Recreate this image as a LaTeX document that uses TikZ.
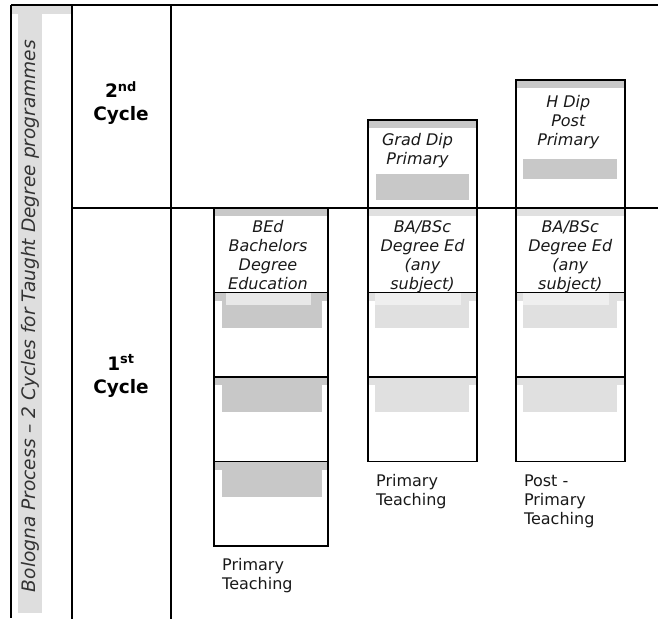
\documentclass[tikz,border=0pt]{standalone}
\usepackage{fontspec}
\setmainfont{DejaVu Sans}
\usetikzlibrary{positioning,backgrounds}
\definecolor{bandgray}{HTML}{C8C8C8}
\definecolor{palegray}{HTML}{E0E0E0}
\definecolor{fadegray}{HTML}{E8E8E8}
\definecolor{stripgray}{HTML}{DEDEDE}
\begin{document}
\begin{tikzpicture}[x=1pt, y=-1pt,
    gridline/.style={line width=1.8pt},
    cell/.style={draw, line width=1.8pt, minimum height=84.5pt, inner sep=0pt, outer sep=0pt},
    entry/.style={font=\fontsize{16}{19}\selectfont\itshape, align=center, inner sep=0pt, text=black!90},
    outcome/.style={font=\fontsize{16}{19}\selectfont, align=left, inner sep=0pt, anchor=north west, text=black!90},
    cyclelabel/.style={font=\fontsize{18.5}{23}\selectfont\bfseries, align=center}]

\useasboundingbox (0,0) rectangle (658,619);

% side strip
\fill[stripgray] (11,5) rectangle (71,14);
\fill[stripgray] (18,14) rectangle (42,613);
\node[rotate=90, font=\fontsize{18.6}{22}\selectfont\itshape, text=black!80] (title) at (30,316) {Bologna Process – 2 Cycles for Taught Degree programmes};

% table
\draw[gridline] (11,5) -- (658,5);
\draw[gridline] (72,208) -- (658,208);
\foreach \x/\ylen in {11/618, 72/619, 171/619}
{
    \draw[gridline] (\x,5) -- (\x,\ylen);
}

\node[cyclelabel] (second) at (121,103) {2\textsuperscript{nd}\\Cycle};
\node[cyclelabel] (first) at (121,376) {1\textsuperscript{st}\\Cycle};

% columns
\foreach \r in {1,2,3,4}
{
    \node[cell, minimum width=114pt] (bed\r) at (271,250.25+84.5*\r-84.5) {};
}
\foreach \c/\x in {degA/422.5, degB/570.3}
{
    \foreach \r in {1,2,3}
    {
        \node[cell, minimum width=109pt] (\c\r) at (\x,250.25+84.5*\r-84.5) {};
    }
}
\node[cell, minimum width=109pt, minimum height=88pt] (graddip) at (422.5,164) {};
\node[cell, minimum width=109pt, minimum height=128pt] (hdip) at (570.3,144) {};

\begin{scope}[on background layer]
\foreach \n in {bed1,bed2,bed3,bed4,graddip,hdip}
{
    \fill[bandgray] (\n.north west) rectangle ([yshift=-8pt]\n.north east);
}
\foreach \n in {degA1,degA2,degA3,degB1,degB2,degB3}
{
    \fill[palegray] (\n.north west) rectangle ([yshift=-8pt]\n.north east);
}
\foreach \n in {bed2,bed3,bed4}
{
    \fill[bandgray] ([shift={(8,8)}]\n.north west) rectangle ([shift={(-6,35)}]\n.north east);
}
\foreach \n in {degA2,degA3,degB2,degB3}
{
    \fill[palegray] ([shift={(7,8)}]\n.north west) rectangle ([shift={(-8,35)}]\n.north east);
}
\fill[fadegray] ([shift={(12,0)}]bed2.north west) rectangle ([shift={(-17,12)}]bed2.north east);
\foreach \n in {degA2,degB2}
{
    \fill[white!50!palegray] ([shift={(7,0)}]\n.north west) rectangle ([shift={(-16,12)}]\n.north east);
}
\fill[bandgray] ([shift={(8,54)}]graddip.north west) rectangle ([shift={(-8,80)}]graddip.north east);
\fill[bandgray] ([shift={(7,79)}]hdip.north west) rectangle ([shift={(-8,99)}]hdip.north east);
\end{scope}

% texts
\node[entry, below=12pt of bed1.north, xshift=-3pt] (bedtext) {BEd\\Bachelors\\Degree\\Education};
\node[entry, below=12pt of degA1.north] (degAtext) {BA/BSc\\Degree Ed\\(any\\subject)};
\node[entry, below=12pt of degB1.north] (degBtext) {BA/BSc\\Degree Ed\\(any\\subject)};
\node[entry, below=13pt of graddip.north, xshift=-5pt] (gradtext) {Grad Dip\\Primary};
\node[entry, below=15pt of hdip.north, xshift=-2pt] (hdiptext) {H Dip\\Post\\Primary};

\node[outcome] (bedjob) at ([shift={(8,12)}]bed4.south west) {Primary\\Teaching};
\node[outcome] (degAjob) at ([shift={(8,13)}]degA3.south west) {Primary\\Teaching};
\node[outcome] (degBjob) at ([shift={(8,13)}]degB3.south west) {Post -\\Primary\\Teaching};
\end{tikzpicture}
\end{document}
